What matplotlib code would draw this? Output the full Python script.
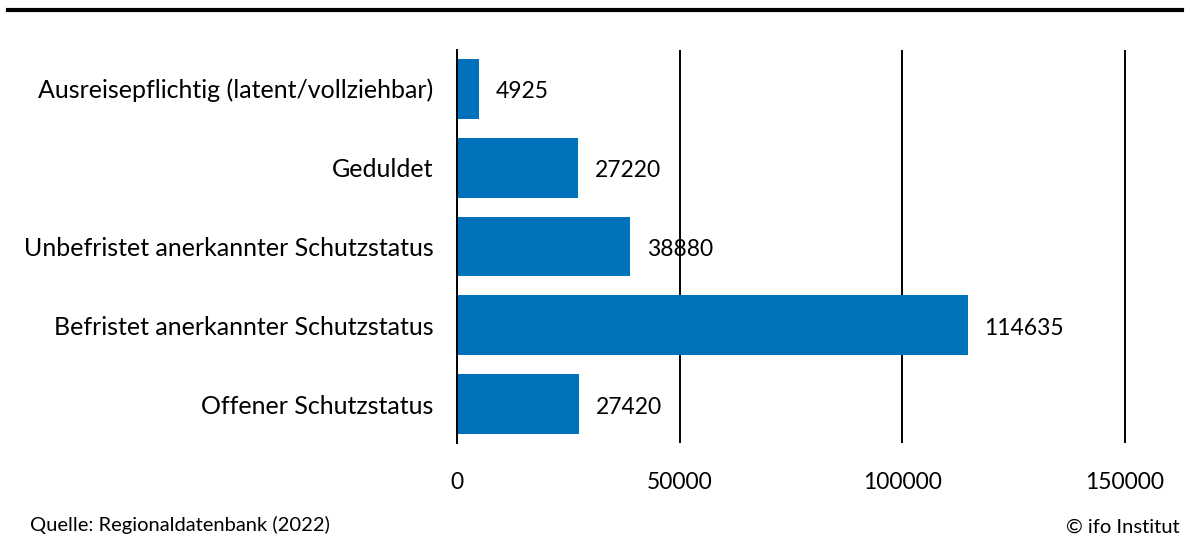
import matplotlib.pyplot as plt
from matplotlib.lines import Line2D

categories = ["Ausreisepflichtig (latent/vollziehbar)", "Geduldet",
              "Unbefristet anerkannter Schutzstatus",
              "Befristet anerkannter Schutzstatus", "Offener Schutzstatus"]
values = [4925, 27220, 38880, 114635, 27420]
xticks = [0, 50000, 100000, 150000]

plt.rcParams['font.family'] = ['Lato', 'DejaVu Sans']

x0, x150 = 457, 1125
xmax = 152000
right = x0 + (x150 - x0) * xmax / 150000
fig = plt.figure(figsize=(11.9, 5.38), dpi=100)
ax = fig.add_axes([x0/1190, 1-443/538, (right-x0)/1190, (443-50)/538])

pos = list(range(len(categories)))
ax.barh(pos, values, height=0.76, color='#0072BC', zorder=2)
for p, v in zip(pos, values):
    ax.annotate(str(v), (v, p), xytext=(12, -2), textcoords='offset points',
                va='center', ha='left', fontsize=16.5)

ax.set_xlim(0, xmax)
ax.set_ylim(4.49, -0.49)
ax.set_yticks(pos)
ax.set_yticklabels(categories, fontsize=18)
ax.set_xticks(xticks)
ax.set_xticklabels([str(t) for t in xticks], fontsize=16.5)
ax.tick_params(axis='y', length=0, pad=17)
ax.tick_params(axis='x', length=0, pad=21)
ax.grid(axis='x', color='black', linewidth=1.4, zorder=1)
for s in ['top', 'right', 'bottom']:
    ax.spines[s].set_visible(False)
ax.spines['left'].set_linewidth(1.4)
ax.spines['left'].set_zorder(3)

fig.add_artist(Line2D([8/1190, 1182/1190], [1-10/538, 1-10/538], color='black',
                      linewidth=3, transform=fig.transFigure))
fig.text(30/1190, 1-525/538, "Quelle: Regionaldatenbank (2022)", fontsize=14.5,
         va='center', ha='left')
fig.text(1180/1190, 1-527/538, "© ifo Institut", fontsize=14.5, va='center', ha='right')

fig.savefig('out.png', dpi=100)
